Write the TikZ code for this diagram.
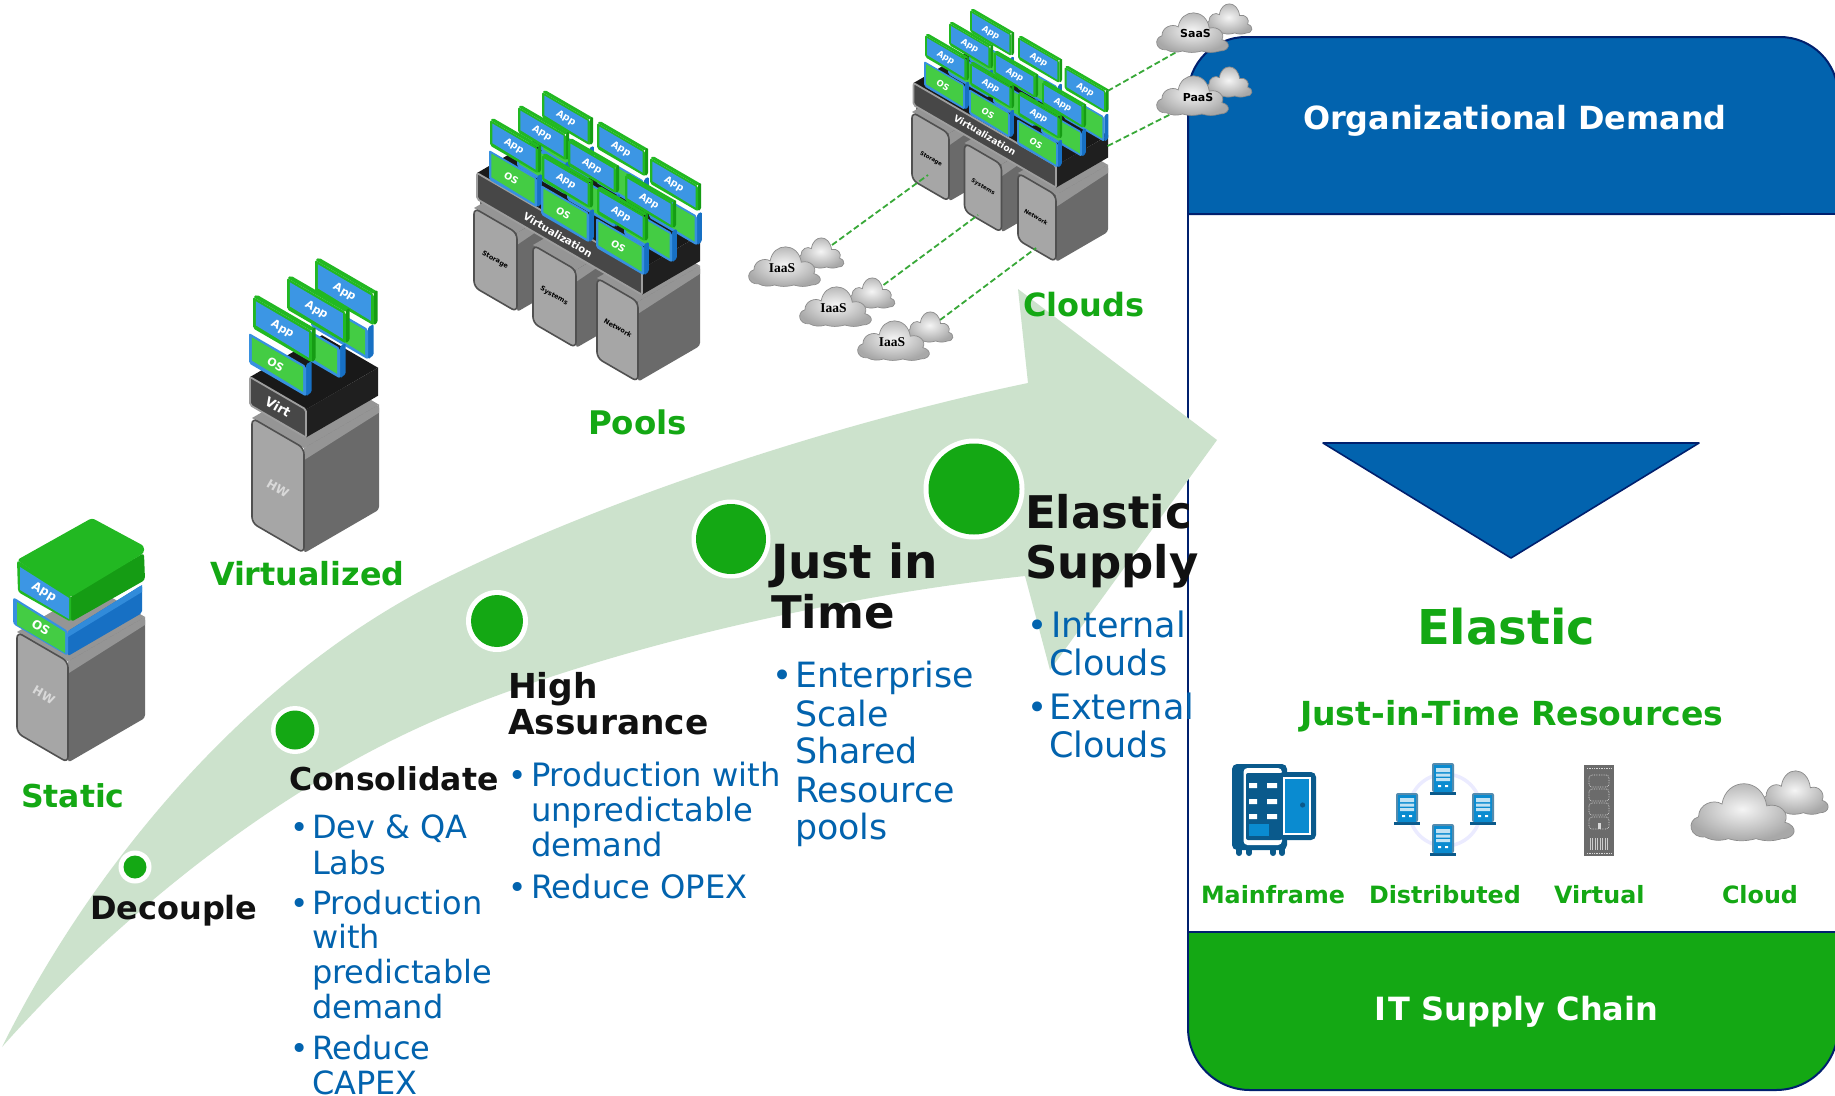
\documentclass[tikz,border=0pt]{standalone}
\usepackage{fontspec}
\setmainfont{DejaVu Sans}
\newfontfamily\serifb{Liberation Serif}
\definecolor{grn}{HTML}{14A814}
\definecolor{arrowg}{HTML}{CCE2CC}
\definecolor{blu}{HTML}{0263AE}
\definecolor{navy}{HTML}{00206E}
\definecolor{txtk}{HTML}{111111}
\definecolor{dash}{HTML}{38A838}
\definecolor{srvlight}{HTML}{A6A6A6}
\definecolor{srvedge}{HTML}{505050}
\definecolor{srvdark}{HTML}{6A6A6A}
\definecolor{srvmid}{HTML}{959595}
\definecolor{cardg}{HTML}{22B822}
\definecolor{cardgd}{HTML}{159C14}
\definecolor{cardb}{HTML}{3C96E4}
\definecolor{cardbd}{HTML}{1770C4}
\definecolor{osg}{HTML}{44CC44}
\definecolor{icond}{HTML}{0A5A8C}
\definecolor{iconb}{HTML}{0A8BD0}
\newcount\nn
\tikzset{
 nm/.code={\global\advance\nn by 1 \tikzset{name=n\the\nn}},
 tl/.style={anchor=base west,inner sep=0pt,outer sep=0pt,nm},
 lbl/.style={inner sep=0pt,outer sep=0pt,text=white,nm},
 link/.style={draw=dash,line width=1.8pt,dash pattern=on 6pt off 3pt},
 panelline/.style={draw=navy,line width=2pt},
}
\newcommand\sz[1]{\fontsize{#1}{#1}\selectfont}
\newcommand\tline[6][]{\node[tl,text=#4,font=#1\sz{#5}] at (#2,#3) {#6};}
\newcommand\bul[3]{\node[tl,text=blu,font=\sz{#3}] at ({#1+3-0.295*#3},#2) {•};}
\newcommand\srvbody[5]{%
 \fill[srvmid] (#1,#2) -- ({#1+#5},{#2-.58*#5}) -- ({#1+#3+#5},{#2+.58*#3-.58*#5}) -- ({#1+#3},{#2+.58*#3}) -- cycle;
 \fill[srvdark,rounded corners=3pt] ({#1+#3},{#2+.58*#3}) -- ({#1+#3+#5},{#2+.58*#3-.58*#5}) -- ({#1+#3+#5},{#2+.58*#3-.58*#5+#4}) -- ({#1+#3},{#2+.58*#3+#4}) -- cycle;
 \fill[srvmid] ({#1+#3},{#2+.58*#3}) -- ({#1+#3+#5},{#2+.58*#3-.58*#5}) -- ({#1+#3+#5},{#2+.58*#3-.58*#5+8}) -- ({#1+#3},{#2+.58*#3+12}) -- cycle;
 \filldraw[fill=srvlight,draw=srvedge,line width=1.6pt,rounded corners=6pt] (#1,#2) -- ({#1+#3},{#2+.58*#3}) -- ({#1+#3},{#2+.58*#3+#4}) -- (#1,{#2+#4}) -- cycle;
}
\newcommand\vrtbar[5]{%
 \fill[black!90] (#1,#2) -- ({#1+#5},{#2-.58*#5}) -- ({#1+#3+#5},{#2+.58*#3-.58*#5}) -- ({#1+#3},{#2+.58*#3}) -- cycle;
 \fill[black!88] ({#1+#3},{#2+.58*#3}) -- ({#1+#3+#5},{#2+.58*#3-.58*#5}) -- ({#1+#3+#5},{#2+.58*#3-.58*#5+#4}) -- ({#1+#3},{#2+.58*#3+#4}) -- cycle;
 \filldraw[fill=black!72,draw=black!38,line width=1.8pt,rounded corners=2pt] (#1,#2) -- ({#1+#3},{#2+.58*#3}) -- ({#1+#3},{#2+.58*#3+#4}) -- (#1,{#2+#4}) -- cycle;
}
\newcommand\appcard[4]{\begin{scope}[shift={(#1,#2)},scale=#3]
 \fill[cardg,rounded corners=1.5pt] (0,0) -- (4,-2.3) -- (64,32.5) -- (60,34.8) -- cycle;
 \fill[cardgd,rounded corners=1.5pt] (60,33) -- (64,30.5) -- (64,63.5) -- (60,66.8) -- cycle;
 \fill[cardg,rounded corners=2pt] (0,0) -- (60,34.8) -- (60,66.8) -- (0,32) -- cycle;
 \fill[cardb] (3,4.5) -- (57,36) -- (57,62) -- (3,29) -- cycle;
 \node[lbl,rotate=-30,font=\bfseries\sz{#4}] at (30,33) {App};
 \end{scope}}
% x y scale labelsize label faceheight
\newcommand\oscard[6]{\begin{scope}[shift={(#1,#2)},scale=#3]
 \fill[cardbd,rounded corners=1.5pt] (60,33) -- (66,29.5) -- (66,{30+#6}) -- (60,{34.8+#6}) -- cycle;
 \fill[cardb!85!cardbd,rounded corners=2pt] (0,0) -- (60,34.8) -- (60,{34.8+#6}) -- (0,#6) -- cycle;
 \fill[osg] (3,4.5) -- (57,36) -- (57,{30+#6}) -- (3,{#6-3}) -- cycle;
 \node[lbl,rotate=-30,font=\bfseries\sz{#4}] at (28,{17+#6/2}) {#5};
 \end{scope}}
\newcommand\cloudblob[4]{\begin{scope}[shift={(#1,#2)},xscale=#3/100,yscale=#4/60]
 \shade[inner color=black!4,outer color=black!34,draw=black!45,line width=.7pt] (14,58) .. controls (0,60) and (-4,40) .. (8,36) .. controls (8,22) and (22,16) .. (30,22) .. controls (34,-8) and (68,-8) .. (72,24) .. controls (84,20) and (94,32) .. (89,42) .. controls (102,46) and (100,60) .. (86,60) .. controls (78,63) and (70,63) .. (62,60) .. controls (52,63) and (44,63) .. (36,60) .. controls (28,63) and (20,62) .. (14,58) -- cycle;
 \end{scope}}
\newcommand\cloudpair[3]{%
 \cloudblob{#1+49*#3}{#2}{48*#3}{29*#3}
 \cloudblob{#1}{#2+9*#3}{74*#3}{38*#3}}
\newcommand\minisrv[2]{\begin{scope}[shift={(#1,#2)}]
 \fill[icond] (-13,13) rectangle (13,16);
 \fill[icond!70!white,rounded corners=2pt] (-11,-16) rectangle (11,13);
 \fill[iconb] (-9,-14) rectangle (9,13);
 \fill[white!75!iconb] (-7,-11) rectangle (7,-7) (-7,-5.5) rectangle (7,-2.5) (-7,-1) rectangle (7,2);
 \fill[white] (-5,6) rectangle (-2,8) (2,6) rectangle (5,8);
 \end{scope}}
\begin{document}
\begin{tikzpicture}[x=1pt,y=-1pt]
\useasboundingbox (0,0) rectangle (1835,1095);
% ---------- panel ----------
\fill[white] (0,0) rectangle (1835,1095);
\draw[panelline,fill=white] (1188,214) -- (1188,932) -- (1838,932) -- (1838,214) -- cycle;
\filldraw[panelline,fill=blu,rounded corners=58pt] (1188,214) -- (1188,37) -- (1838,37) -- (1838,214) [sharp corners] -- cycle;
\fill[blu] (1189,150) rectangle (1837,213);
\draw[panelline] (1188,120) -- (1188,214) -- (1838,214);
\filldraw[panelline,fill=grn,rounded corners=62pt] (1188,932) -- (1188,1090) -- (1838,1090) -- (1838,932) [sharp corners] -- cycle;
\fill[grn] (1189,933) rectangle (1837,1000);
\draw[panelline] (1188,1020) -- (1188,932) -- (1838,932);
\filldraw[fill=blu,draw=navy,line width=1.6pt,line join=round] (1323,443) -- (1699,443) -- (1511,558) -- cycle;
\tline[\bfseries]{1303}{129}{white}{31.9}{Organizational Demand}
\tline[\bfseries]{1374}{1020}{white}{32}{I\kern3pt T Supply Chain}
\tline[\bfseries]{1417}{644}{grn}{48}{Elastic}
\tline[\bfseries]{1300}{725}{grn}{33.1}{Just-in-Time Resources}
\tline[\bfseries]{1201}{903}{grn}{23.8}{Mainframe}
\tline[\bfseries]{1369}{903}{grn}{23.8}{Distributed}
\tline[\bfseries]{1554}{903}{grn}{23.8}{Virtual}
\tline[\bfseries]{1722}{903}{grn}{23.8}{Cloud}
% ---------- mainframe icon ----------
\fill[icond,rounded corners=5pt] (1232,764) rectangle (1287,850);
\foreach \fx in {1236,1246,1270,1279}{\fill[icond] (\fx,846) rectangle (\fx+6,853); \fill[icond] (\fx+3,853) circle (3pt);}
\fill[white,rounded corners=4pt] (1243.5,768) rectangle (1282,845);
\fill[icond,rounded corners=2pt] (1246,773) rectangle (1282,840);
\foreach \sy in {783,799,814}{\fill[white] (1249,\sy) rectangle (1257,\sy+5) (1267,\sy) rectangle (1277,\sy+5);}
\fill[iconb] (1249,824) rectangle (1269,836);
\fill[icond,rounded corners=5pt] (1278,772) rectangle (1316,840);
\fill[white] (1282.5,776.5) rectangle (1310.5,835);
\fill[iconb] (1284.5,778.5) rectangle (1309,833);
\fill[icond] (1302.6,805) circle (2.6pt);
% ---------- distributed icon ----------
\draw[draw=blue!8!white,line width=3.5pt] (1445,810) circle (36pt);
\minisrv{1443}{779}\minisrv{1407}{809}\minisrv{1483}{809}\minisrv{1443}{840}
% ---------- virtual icon ----------
\fill[black!58] (1584,765) rectangle (1614,856);
\foreach \vy in {775,789,803,817}{\draw[white!85!black,line width=.7pt,densely dotted,rounded corners=3pt] (1589,\vy) rectangle (1609,\vy+12);}
\draw[white!85!black,line width=.7pt,densely dotted] (1587,768) -- (1611,768) (1587,853) -- (1611,853);
\foreach \vx in {1590,1592.5,...,1608}{\draw[white!80!black,line width=.6pt] (\vx,838) -- (\vx,850);}
\fill[white!85!black] (1597.5,823) rectangle (1600.5,829);
% ---------- big cloud icon ----------
\cloudpair{1690}{771}{1.44}
% ---------- arrow ----------
\fill[arrowg] (2,1047) .. controls (100,850) and (260,670) .. (442,580) .. controls (620,492) and (850,420) .. (1028,383) -- (1018,289) -- (1217,440) -- (1050,670) -- (1025,576) .. controls (800,600) and (560,663) .. (420,727) .. controls (260,800) and (110,925) .. (2,1047) -- cycle;
% ---------- circles ----------
\foreach \cx/\cy/\ro/\ri in {135/867/16.5/11.5,295/730/24/19.5,497/621/31/26,731/539/39.5/35,974/489/50.5/45.5}{
 \fill[white] (\cx,\cy) circle (\ro pt);
 \fill[grn] (\cx,\cy) circle (\ri pt);
}
% ---------- stage labels ----------
\tline[\bfseries]{21}{807}{grn}{31.5}{Static}
\tline[\bfseries]{210}{585}{grn}{31.8}{Virtualized}
\tline[\bfseries]{588}{434}{grn}{32.5}{Pools}
\tline[\bfseries]{1023}{316}{grn}{32}{Clouds}
% ---------- steps ----------
\tline[\bfseries]{90}{919}{txtk}{32}{Decouple}
\tline[\bfseries]{289}{790}{txtk}{31.5}{Consolidate}
\tline[\bfseries]{508}{698}{txtk}{34.4}{High}
\tline[\bfseries]{508}{734}{txtk}{34.4}{Assurance}
\tline[\bfseries]{771}{578}{txtk}{47}{Just in}
\tline[\bfseries]{771}{628}{txtk}{45}{Time}
\tline[\bfseries]{1025}{528}{txtk}{45}{Elastic}
\tline[\bfseries]{1025}{578}{txtk}{45}{Supply}
% bullets: Consolidate
\bul{297}{838}{31}\tline{312}{838}{blu}{32}{Dev \& QA}
\tline{312}{874}{blu}{32}{Labs}
\bul{297}{914}{31}\tline{312}{914}{blu}{32}{Production}
\tline{312}{948}{blu}{32}{with}
\tline{312}{983}{blu}{32}{predictable}
\tline{312}{1018}{blu}{32}{demand}
\bul{297}{1059}{31}\tline{312}{1059}{blu}{32}{Reduce}
\tline{312}{1094}{blu}{32}{CAPEX}
% bullets: High Assurance
\bul{515}{786}{31}\tline{531}{786}{blu}{32.2}{Production with}
\tline{531}{821}{blu}{32.2}{unpredictable}
\tline{531}{856}{blu}{32.2}{demand}
\bul{515}{898}{31}\tline{531}{898}{blu}{32.2}{Reduce OPEX}
% bullets: Just in Time
\bul{780}{687}{34}\tline{795}{687}{blu}{34.8}{Enterprise}
\tline{795}{726}{blu}{34.8}{Scale}
\tline{795}{763}{blu}{34.8}{Shared}
\tline{795}{802}{blu}{34.8}{Resource}
\tline{795}{839}{blu}{34.8}{pools}
% bullets: Elastic Supply
\bul{1035}{637}{34}\tline{1051}{637}{blu}{35}{Internal}
\tline{1049}{675}{blu}{35}{Clouds}
\bul{1035}{719}{34}\tline{1049}{719}{blu}{35}{External}
\tline{1049}{757}{blu}{35}{Clouds}
% ---------- static stack ----------
\srvbody{17}{632}{51}{101}{77}
\node[lbl,rotate=-30,font=\bfseries\sz{12},text=white!85!black] at (44,695) {HW};
\fill[cardbd,rounded corners=2pt] (68,631) -- (142,585) -- (142,613) -- (68,656) -- cycle;
\fill[cardb!70!cardbd] (68,631) -- (142,585) -- (142,592) -- (68,637) -- cycle;
\fill[cardb!85!cardbd,rounded corners=3pt] (13,597) -- (68,631) -- (68,656) -- (13,624) -- cycle;
\fill[osg] (17,602) -- (65,632) -- (65,653) -- (17,625) -- cycle;
\node[lbl,rotate=-30,font=\bfseries\sz{12}] at (41,627) {OS};
\fill[cardgd,rounded corners=3pt] (71,595) -- (144,553) -- (145,580) -- (71,622) -- cycle;
\fill[cardg,rounded corners=3pt] (17,560) -- (92,518) -- (144,546) -- (144,553) -- (71,597) -- cycle;
\fill[cardg,rounded corners=3pt] (17,560) -- (71,595) -- (71,622) -- (18,592) -- cycle;
\fill[cardb] (20,567) -- (69,598) -- (69,619) -- (20,590) -- cycle;
\node[lbl,rotate=-30,font=\bfseries\sz{12}] at (44,592) {App};
% ---------- virtualized stack ----------
\srvbody{252}{418}{52}{105}{75}
\node[lbl,rotate=-30,font=\bfseries\sz{12},text=white!85!black] at (278,489) {HW};
\vrtbar{250}{377}{56}{28}{72}
\node[lbl,rotate=-30,font=\bfseries\sz{13}] at (278,407) {Virt};
\oscard{311}{296}{.95}{11}{}{32}\appcard{315}{260}{.98}{11}
\oscard{283}{315}{.95}{11}{}{32}\appcard{287}{278}{.98}{11}
\oscard{249}{333}{.95}{11}{OS}{32}\appcard{253}{297}{.98}{11}
% ---------- pools stack ----------
\fill[srvdark] (480,198) -- (642,292) -- (642,325) -- (480,235) -- cycle;
\srvbody{474}{208}{43}{79}{40}
\node[lbl,rotate=-30,font=\bfseries\sz{6.5},text=black] at (495,260) {Storage};
\srvbody{533}{245}{43}{78}{40}
\node[lbl,rotate=-30,font=\bfseries\sz{6.5},text=black] at (554,296) {Systems};
\srvbody{597}{278}{41}{80}{62}
\node[lbl,rotate=-30,font=\bfseries\sz{6.5},text=black] at (618,328) {Network};
\vrtbar{477}{173}{165}{26}{58}
\node[lbl,rotate=-30,font=\bfseries\sz{10.2}] at (558,235) {Virtualization};
\foreach \ax/\ay/\ol in {542/92/,518/107/,490/120/OS,597/123/,568/140/,542/155/OS,650/158/,625/175/,597/188/OS}{
 \oscard{\ax-1}{\ay+30}{.80}{9.5}{\ol}{37}\appcard{\ax}{\ay}{.80}{9.5}
}
% ---------- clouds stack ----------
\fill[srvdark] (916,105) -- (1056,186) -- (1056,215) -- (916,135) -- cycle;
\srvbody{912}{112}{37}{68}{35}
\node[lbl,rotate=-30,font=\bfseries\sz{5.5},text=black] at (931,159) {Storage};
\srvbody{964.5}{143}{37}{68}{35}
\node[lbl,rotate=-30,font=\bfseries\sz{5.5},text=black] at (983,187) {Systems};
\srvbody{1018}{173}{38}{67}{52}
\node[lbl,rotate=-30,font=\bfseries\sz{5.5},text=black] at (1036,217) {Network};
\vrtbar{913.5}{83}{142.5}{22}{52}
\node[lbl,rotate=-30,font=\bfseries\sz{9.2}] at (985,135) {Virtualization};
\foreach \ax/\ay/\ol in {970/10/,949/23/,925/35/OS,1018/37/,994/52/,970/63/OS,1064.5/67/,1042/82/,1018/93/OS}{
 \oscard{\ax-1}{\ay+26}{.68}{8.5}{\ol}{37}\appcard{\ax}{\ay}{.69}{8.5}
}
% ---------- connectors ----------
\coordinate (iaas1) at (832,245); \coordinate (srv1) at (928,175);
\coordinate (iaas2) at (883.5,285); \coordinate (srv2) at (978,215);
\coordinate (iaas3) at (940,320); \coordinate (srv3) at (1036,248);
\coordinate (saas) at (1180,50); \coordinate (appr) at (1107.6,91);
\coordinate (paas) at (1173,113); \coordinate (virr) at (1107.6,146);
\draw[link] (iaas1) -- (srv1);
\draw[link] (iaas2) -- (srv2);
\draw[link] (iaas3) -- (srv3);
\draw[link] (appr) -- (saas);
\draw[link] (virr) -- (paas);
% ---------- clouds ----------
\cloudpair{748}{238}{1}
\cloudpair{799}{278}{1}
\cloudpair{857}{312}{1}
\cloudpair{1156}{4}{1}
\cloudpair{1156}{67}{1}
\node[lbl,text=black,font=\serifb\bfseries\sz{13.5}] at (782,268) {IaaS};
\node[lbl,text=black,font=\serifb\bfseries\sz{13.5}] at (833.5,308) {IaaS};
\node[lbl,text=black,font=\serifb\bfseries\sz{13.5}] at (892,342) {IaaS};
\node[lbl,text=black,font=\bfseries\sz{11}] at (1195.5,33) {SaaS};
\node[lbl,text=black,font=\bfseries\sz{11}] at (1198,97) {PaaS};
\end{tikzpicture}
\end{document}
